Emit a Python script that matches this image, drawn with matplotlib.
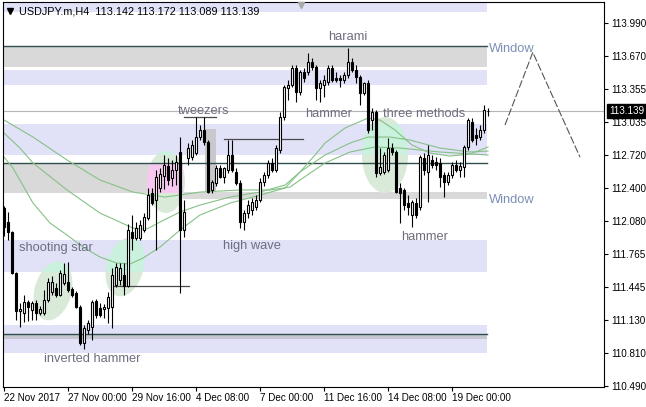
import matplotlib

matplotlib.use("Agg")

import matplotlib.pyplot as plt
import matplotlib.transforms as mtransforms
import numpy as np
from matplotlib.patches import Ellipse, Rectangle

plt.rcParams["font.family"] = ["Liberation Sans", "DejaVu Sans"]

# ---- chart data (USDJPY.m, H4) ----
opens = [112.205, 112.070, 111.974, 111.579, 111.213, 111.194, 111.299, 111.222, 111.290, 111.194,
         111.194, 111.319, 111.396, 111.434, 111.367, 111.483, 111.492, 111.425, 111.386, 111.251,
         110.904, 111.030, 111.059, 111.309, 111.242, 111.232, 111.242, 111.251, 111.463, 111.512,
         111.560, 111.454, 111.974, 111.916, 111.916, 111.993, 112.109, 112.350, 112.282, 112.398,
         112.513, 112.610, 112.494, 112.571, 112.745, 111.993, 112.687, 112.696, 112.735, 112.889,
         112.957, 112.841, 112.379, 112.446, 112.590, 112.504, 112.571, 112.716, 112.552, 112.446,
         112.070, 112.157, 112.186, 112.215, 112.282, 112.456, 112.523, 112.639, 112.571, 112.764,
         113.082, 113.361, 113.390, 113.554, 113.323, 113.515, 113.515, 113.612, 113.564, 113.361,
         113.390, 113.419, 113.554, 113.458, 113.458, 113.438, 113.486, 113.612, 113.535, 113.467,
         113.313, 113.409, 113.053, 113.130, 112.542, 112.552, 112.571, 112.783, 112.745, 112.398,
         112.379, 112.253, 112.138, 112.253, 112.215, 112.687, 112.552, 112.668, 112.648, 112.639,
         112.523, 112.456, 112.523, 112.619, 112.571, 112.600, 112.793, 113.034, 112.908, 112.889,
         112.957, 113.142]
highs = [112.224, 112.167, 111.984, 111.590, 111.290, 111.367, 111.319, 111.309, 111.319, 111.261,
         111.415, 111.531, 111.550, 111.483, 111.608, 111.675, 111.685, 111.444, 111.406, 111.271,
         111.078, 111.126, 111.319, 111.328, 111.290, 111.280, 111.396, 111.627, 111.675, 111.675,
         111.675, 112.051, 112.138, 112.070, 112.089, 112.157, 112.398, 112.398, 112.571, 112.590,
         112.716, 112.687, 112.668, 112.716, 112.889, 112.282, 112.831, 112.860, 113.082, 113.005,
         113.082, 112.860, 112.475, 112.619, 112.619, 112.600, 112.860, 112.860, 112.590, 112.475,
         112.186, 112.282, 112.301, 112.330, 112.494, 112.552, 112.668, 112.687, 112.812, 113.130,
         113.390, 113.438, 113.583, 113.583, 113.535, 113.554, 113.698, 113.650, 113.583, 113.438,
         113.486, 113.583, 113.583, 113.515, 113.486, 113.515, 113.747, 113.650, 113.583, 113.486,
         113.419, 113.438, 113.169, 113.149, 112.783, 112.745, 112.880, 112.831, 112.764, 112.446,
         112.398, 112.330, 112.282, 112.301, 112.716, 112.735, 112.812, 112.716, 112.696, 112.687,
         112.552, 112.552, 112.648, 112.668, 112.648, 112.812, 113.072, 113.072, 112.976, 113.005,
         113.197, 113.172]
lows = [111.935, 111.897, 111.569, 111.126, 111.059, 111.107, 111.116, 111.126, 111.126, 111.174,
        111.174, 111.299, 111.367, 111.348, 111.357, 111.463, 111.396, 111.348, 111.242, 110.885,
        110.847, 110.991, 110.933, 111.145, 111.155, 111.145, 111.097, 111.049, 111.444, 111.463,
        111.367, 111.444, 111.800, 111.897, 111.897, 111.974, 112.089, 112.234, 111.800, 112.359,
        112.388, 112.427, 112.417, 112.427, 111.386, 111.926, 112.619, 112.668, 112.716, 112.860,
        112.812, 112.350, 112.350, 112.417, 112.494, 112.446, 112.542, 112.552, 112.427, 112.012,
        111.993, 112.109, 112.138, 112.186, 112.263, 112.417, 112.494, 112.552, 112.552, 112.735,
        113.053, 113.246, 113.371, 113.226, 113.294, 113.419, 113.486, 113.535, 113.246, 113.226,
        113.275, 113.390, 113.419, 113.419, 113.371, 113.409, 113.458, 113.515, 113.409, 113.197,
        113.294, 112.928, 112.957, 112.504, 112.523, 112.533, 112.552, 112.716, 112.350, 112.061,
        112.186, 112.138, 112.022, 112.109, 112.186, 112.523, 112.263, 112.590, 112.571, 112.407,
        112.311, 112.427, 112.494, 112.552, 112.504, 112.504, 112.764, 112.841, 112.812, 112.860,
        112.928, 113.089]
closes = [112.022, 111.974, 111.579, 111.213, 111.232, 111.299, 111.251, 111.290, 111.194, 111.232,
          111.319, 111.492, 111.492, 111.367, 111.579, 111.569, 111.415, 111.367, 111.251, 110.904,
          111.049, 111.097, 111.299, 111.174, 111.174, 111.251, 111.348, 111.560, 111.637, 111.627,
          111.454, 111.993, 111.916, 112.012, 112.041, 112.118, 112.330, 112.253, 112.504, 112.533,
          112.619, 112.475, 112.571, 112.648, 111.993, 112.167, 112.783, 112.812, 112.889, 112.957,
          112.841, 112.359, 112.456, 112.590, 112.504, 112.590, 112.716, 112.571, 112.446, 112.070,
          112.157, 112.234, 112.263, 112.282, 112.456, 112.523, 112.639, 112.571, 112.783, 113.082,
          113.371, 113.390, 113.554, 113.323, 113.515, 113.458, 113.612, 113.564, 113.361, 113.409,
          113.438, 113.554, 113.438, 113.438, 113.438, 113.486, 113.612, 113.535, 113.467, 113.313,
          113.409, 112.957, 113.130, 112.542, 112.600, 112.716, 112.783, 112.745, 112.359, 112.350,
          112.234, 112.215, 112.263, 112.138, 112.696, 112.571, 112.716, 112.619, 112.619, 112.504,
          112.456, 112.523, 112.619, 112.571, 112.610, 112.793, 113.053, 112.860, 112.880, 112.957,
          113.149, 113.139]

tick_bars = [0, 16, 32, 48, 64, 80, 96, 112]
tick_labels = ["22 Nov 2017", "27 Nov 00:00", "29 Nov 16:00", "4 Dec 08:00",
               "7 Dec 00:00", "11 Dec 16:00", "14 Dec 08:00", "19 Dec 00:00"]
price_ticks = [113.990, 113.670, 113.355, 113.035, 112.720, 112.400,
               112.080, 111.765, 111.445, 111.130, 110.810, 110.490]
last_price = 113.139
title = "USDJPY.m,H4  113.142 113.172 113.089 113.139"

# moving averages, sampled along the curves (bar index, price)
ma_fast_bars = [0, 2.25, 7.25, 11.5, 15.75, 19.75, 24, 28.25, 31.5, 34.75, 39, 44, 49, 56.5,
                64, 70.25, 74, 77.75, 80.25, 85.25, 91, 94, 97.75, 102, 106.5, 111.5, 116.5, 121]
ma_fast = [112.696, 112.590, 112.253, 112.061, 111.945, 111.829, 111.733, 111.675, 111.666,
           111.723, 111.829, 111.993, 112.138, 112.253, 112.330, 112.398, 112.552, 112.716,
           112.831, 112.976, 113.072, 113.053, 112.957, 112.812, 112.735, 112.706, 112.725, 112.793]
ma_mid_bars = [0, 4, 7.25, 15.75, 24, 32.25, 35.75, 39, 44, 49, 56.5, 64, 70.25, 74, 80.25,
               86.5, 91, 96.5, 101.5, 109, 116.5, 121]
ma_mid = [112.928, 112.783, 112.639, 112.379, 112.157, 112.012, 112.003, 112.070, 112.167,
          112.234, 112.311, 112.359, 112.427, 112.552, 112.716, 112.831, 112.889, 112.889,
          112.860, 112.783, 112.745, 112.754]
ma_slow_bars = [0, 7.25, 15.75, 24, 32.25, 40.25, 49, 59, 66.5, 71.5, 74, 80.25, 86.5, 92.75,
                99, 109, 121]
ma_slow = [113.053, 112.889, 112.668, 112.475, 112.359, 112.311, 112.359, 112.379, 112.379,
           112.407, 112.475, 112.639, 112.745, 112.793, 112.783, 112.745, 112.716]

# zones (price low, price high) and their bar range
lavender_zones = [(114.093, 114.180), (113.390, 113.535), (112.716, 113.014),
                  (111.589, 111.897), (110.808, 111.078)]
gray_zones = [(113.564, 113.766, -1, 120.75), (112.350, 112.639, -1, 44.75),
              (112.292, 112.359, 44.75, 120.75)]
thin_zone = (110.943, 110.982)
support_levels = [113.771, 112.643, 110.991]
zone_end = 120.75

tweezers_line = ((45, 53), 113.080)
wave_line = ((55, 74.75), 112.867)
low_line = ((27.25, 46.25), 111.454)
tweezers_box = ((50.25, 53), (112.359, 112.966))

# pattern highlight ellipses: center bar, center price, width px, height px, angle
ellipses = [(12.25, 111.406, 37, 60, -15), (30.25, 111.637, 37, 60, -15),
            (40.5, 112.456, 38, 62, 0), (95.25, 112.716, 46, 76, 0)]

pattern_labels = [("harami", 85.9, 113.824), ("hammer", 81.1, 113.082),
                  ("three methods", 105, 113.082), ("tweezers", 49.9, 113.111),
                  ("shooting star", 13.1, 111.796), ("high wave", 61.9, 111.810),
                  ("hammer", 105.1, 111.897), ("inverted hammer", 22.1, 110.726)]
window_labels = [("Window", 121.25, 113.708), ("Window", 121.25, 112.253)]

proj_bars = [125.25, 132.2, 144.0]
proj_prices = [113.005, 113.705, 112.696]

# ---- figure ----
W, H = 646, 407
fig = plt.figure(figsize=(W / 100, H / 100), dpi=100)
ax = fig.add_axes([3.3 / W, 20 / H, 600.7 / W, 385.3 / H])
ax.set_xlim(-0.175, 150)
ax.set_ylim(110.481, 114.193)

x0 = -1
for lo, hi in lavender_zones:
    ax.add_patch(Rectangle((x0, lo), zone_end - x0, hi - lo, fc="#E1E1F8", ec="none", zorder=0))
for lo, hi, a, b in gray_zones:
    ax.add_patch(Rectangle((a, lo), b - a, hi - lo, fc="#D9D9D9", ec="none", zorder=0.1))
ax.add_patch(Rectangle((x0, thin_zone[0]), zone_end - x0, thin_zone[1] - thin_zone[0],
                       fc="#C6C6D0", ec="none", zorder=0.1))
(bx0, bx1), (by0, by1) = tweezers_box
ax.add_patch(Rectangle((bx0, by0), bx1 - bx0, by1 - by0, fc="#C9C9CD", ec="none", zorder=0.2))


def add_ellipse(cx, cy, w, h, ang, color, clip=None):
    tr = fig.dpi_scale_trans + mtransforms.ScaledTranslation(cx, cy, ax.transData)
    e = Ellipse((0, 0), w / 100, h / 100, angle=ang, transform=tr, fc=color, ec="none", zorder=0.5)
    ax.add_patch(e)
    if clip is not None:
        e.set_clip_path(clip)


for cx, cy, w, h, ang in ellipses:
    add_ellipse(cx, cy, w, h, ang, "#D9EAD9")
    for lo, hi in lavender_zones:
        r = Rectangle((x0, lo), zone_end - x0, hi - lo, transform=ax.transData)
        add_ellipse(cx, cy, w, h, ang, "#C9F1DD", clip=r)
    lo, hi, a, b = gray_zones[1]
    r = Rectangle((a, lo), b - a, hi - lo, transform=ax.transData)
    add_ellipse(cx, cy, w, h, ang, "#F6C8F0", clip=r)

for lvl in support_levels:
    ax.plot([x0, zone_end], [lvl, lvl], color="#2F4F4F", lw=1.0, zorder=1)
ax.axhline(last_price, color="#B5B5B5", lw=0.8, zorder=0.8)

for (a, b), p in (tweezers_line, wave_line, low_line):
    ax.plot([a, b], [p, p], color="#4A4A4A", lw=0.9, zorder=1.2)

for bars, vals in ((ma_fast_bars, ma_fast), (ma_mid_bars, ma_mid), (ma_slow_bars, ma_slow)):
    ax.plot(bars, vals, color="#86C186", lw=0.8, zorder=1.5)

ax.plot(proj_bars, proj_prices, color="#555555", lw=0.8, ls=(0, (7, 2)), zorder=2)

# candles
o, h, l, c = (np.array(v) for v in (opens, highs, lows, closes))
xs = np.arange(len(o))
up = c >= o
ax.vlines(xs, l, h, color="black", lw=0.8, zorder=3)
bw = 0.55
ax.bar(xs[up], (c - o)[up], bottom=o[up], width=bw, color="white", edgecolor="black",
       linewidth=0.8, zorder=3.1)
ax.bar(xs[~up], (o - c)[~up], bottom=c[~up], width=bw, color="black", edgecolor="black",
       linewidth=0.8, zorder=3.1)

for txt, bx, by in pattern_labels:
    ax.text(bx, by, txt, ha="center", va="baseline", fontsize=9.3, color="#6E6E80", zorder=4)
for txt, bx, by in window_labels:
    ax.text(bx, by, txt, ha="left", va="baseline", fontsize=9.3, color="#7C8EB6", zorder=4)

# axes styling
for s in ax.spines.values():
    s.set_color("black")
    s.set_linewidth(0.8)
ax.yaxis.tick_right()
ax.set_yticks(price_ticks)
ax.set_yticklabels([f"{p:.3f}" for p in price_ticks])
ax.set_xticks(tick_bars)
ax.set_xticklabels(tick_labels)
ax.tick_params(axis="y", direction="out", length=2.9, width=0.8, pad=2, labelsize=7.1)
ax.tick_params(axis="x", direction="out", length=2.9, width=0.8, pad=1.2, labelsize=7.1)
for lbl in ax.get_xticklabels():
    lbl.set_ha("left")

blend = mtransforms.blended_transform_factory(ax.transAxes, ax.transData)
ax.text(1.0085, last_price, f"{last_price:.3f}", transform=blend, color="white", fontsize=7.1,
        ha="left", va="center", zorder=5, clip_on=False,
        bbox=dict(boxstyle="square,pad=0.18", fc="black", ec="black"))

ax.plot([0.4964], [0.991], marker="v", ms=5, color="#A8A8A8", transform=ax.transAxes,
        clip_on=False, zorder=5)
fig.text(19 / W, 1 - 11 / H, title, fontsize=7.8, va="center", ha="left")
fig.lines.append(plt.Line2D([10 / W], [1 - 11 / H], marker="v", ms=4, color="black",
                            transform=fig.transFigure))

fig.savefig("out.png", dpi=100)
